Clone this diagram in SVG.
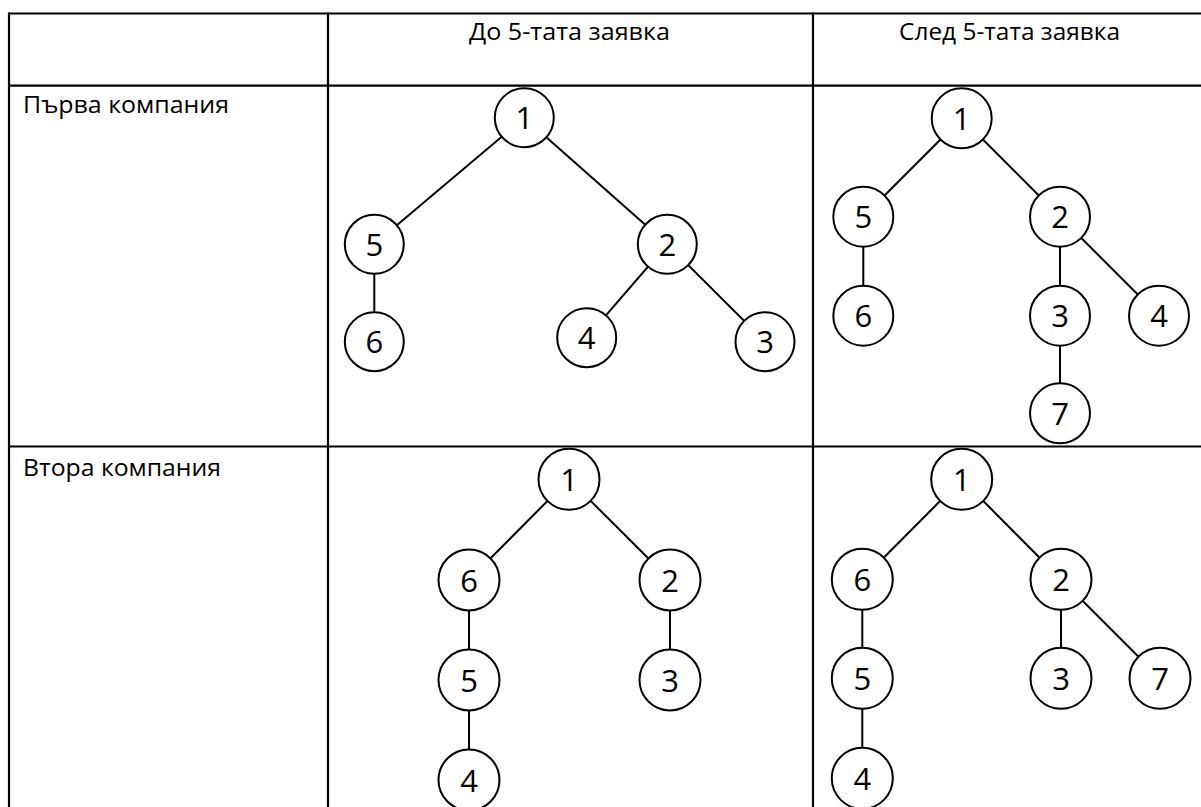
<svg xmlns="http://www.w3.org/2000/svg" width="1201" height="807" viewBox="0 0 1201 807">
<style>
.grid{stroke:#000;stroke-width:2.2;fill:none}
.edge{stroke:#000;stroke-width:2;fill:none}
.node circle{fill:#fff;stroke:#000;stroke-width:2}
.node text{font-family:"Open Sans","Noto Sans","DejaVu Sans",sans-serif;font-size:31px;text-anchor:middle;fill:#000}
.lbl{font-family:"Open Sans","Noto Sans","DejaVu Sans",sans-serif;font-size:23px;fill:#000}
</style>
<rect width="1201" height="807" fill="#fff"/>
<g id="table">
<line class="grid" x1="8" y1="13.5" x2="1201" y2="13.5"/>
<line class="grid" x1="8" y1="85.7" x2="1201" y2="85.7"/>
<line class="grid" x1="8" y1="446.5" x2="1201" y2="446.5"/>
<line class="grid" x1="9" y1="12.5" x2="9" y2="807"/>
<line class="grid" x1="328" y1="12.5" x2="328" y2="807"/>
<line class="grid" x1="813" y1="12.5" x2="813" y2="807"/>
</g>
<g id="labels">
<text class="lbl" x="469" y="40" textLength="201" lengthAdjust="spacingAndGlyphs">До 5-тата заявка</text>
<text class="lbl" x="899" y="40" textLength="221" lengthAdjust="spacingAndGlyphs">След 5-тата заявка</text>
<text class="lbl" x="23" y="112.5" textLength="206" lengthAdjust="spacingAndGlyphs">Първа компания</text>
<text class="lbl" x="23" y="475.5" textLength="198" lengthAdjust="spacingAndGlyphs">Втора компания</text>
</g>
<g id="connectors">
<line class="edge" x1="524.3" y1="117.7" x2="374.3" y2="244.3"/>
<line class="edge" x1="524.3" y1="117.7" x2="667.3" y2="244.3"/>
<line class="edge" x1="374.3" y1="244.3" x2="374.3" y2="341.7"/>
<line class="edge" x1="667.3" y1="244.3" x2="586.7" y2="337.7"/>
<line class="edge" x1="667.3" y1="244.3" x2="765" y2="341.7"/>
<line class="edge" x1="961.7" y1="118.3" x2="863.3" y2="216.7"/>
<line class="edge" x1="961.7" y1="118.3" x2="1060" y2="216.7"/>
<line class="edge" x1="863.3" y1="216.7" x2="863.3" y2="315.7"/>
<line class="edge" x1="1060" y1="216.7" x2="1060" y2="315.7"/>
<line class="edge" x1="1060" y1="216.7" x2="1159" y2="315.7"/>
<line class="edge" x1="1060" y1="315.7" x2="1060" y2="413.3"/>
<line class="edge" x1="569" y1="479.3" x2="469" y2="580"/>
<line class="edge" x1="569" y1="479.3" x2="670" y2="580"/>
<line class="edge" x1="469" y1="580" x2="469" y2="680"/>
<line class="edge" x1="469" y1="680" x2="469" y2="780"/>
<line class="edge" x1="670" y1="580" x2="670" y2="680"/>
<line class="edge" x1="961.7" y1="479.3" x2="862.3" y2="579.3"/>
<line class="edge" x1="961.7" y1="479.3" x2="1061" y2="579.3"/>
<line class="edge" x1="862.3" y1="579.3" x2="862.3" y2="678.3"/>
<line class="edge" x1="862.3" y1="678.3" x2="862.3" y2="778.3"/>
<line class="edge" x1="1061" y1="579.3" x2="1061" y2="678.3"/>
<line class="edge" x1="1061" y1="579.3" x2="1160" y2="678.3"/>
</g>
<g id="a1" class="node"><circle cx="524.3" cy="117.7" r="29.5"/><text x="524.3" y="129.3">1</text></g>
<g id="a5" class="node"><circle cx="374.3" cy="244.3" r="29.5"/><text x="374.3" y="255.9">5</text></g>
<g id="a2" class="node"><circle cx="667.3" cy="244.3" r="29.5"/><text x="667.3" y="255.9">2</text></g>
<g id="a6" class="node"><circle cx="374.3" cy="341.7" r="29.5"/><text x="374.3" y="353.3">6</text></g>
<g id="a4" class="node"><circle cx="586.7" cy="337.7" r="29.5"/><text x="586.7" y="349.3">4</text></g>
<g id="a3" class="node"><circle cx="765" cy="341.7" r="29.5"/><text x="765" y="353.3">3</text></g>

<g id="b1" class="node"><circle cx="961.7" cy="118.3" r="30"/><text x="961.7" y="129.9">1</text></g>
<g id="b5" class="node"><circle cx="863.3" cy="216.7" r="30"/><text x="863.3" y="228.3">5</text></g>
<g id="b2" class="node"><circle cx="1060" cy="216.7" r="30"/><text x="1060" y="228.3">2</text></g>
<g id="b6" class="node"><circle cx="863.3" cy="315.7" r="30"/><text x="863.3" y="327.3">6</text></g>
<g id="b3" class="node"><circle cx="1060" cy="315.7" r="30"/><text x="1060" y="327.3">3</text></g>
<g id="b4" class="node"><circle cx="1159" cy="315.7" r="30"/><text x="1159" y="327.3">4</text></g>
<g id="b7" class="node"><circle cx="1060" cy="413.3" r="30"/><text x="1060" y="424.9">7</text></g>

<g id="c1" class="node"><circle cx="569" cy="479.3" r="30.5"/><text x="569" y="490.9">1</text></g>
<g id="c6" class="node"><circle cx="469" cy="580" r="30.5"/><text x="469" y="591.6">6</text></g>
<g id="c2" class="node"><circle cx="670" cy="580" r="30.5"/><text x="670" y="591.6">2</text></g>
<g id="c5" class="node"><circle cx="469" cy="680" r="30.5"/><text x="469" y="691.6">5</text></g>
<g id="c3" class="node"><circle cx="670" cy="680" r="30.5"/><text x="670" y="691.6">3</text></g>
<g id="c4" class="node"><circle cx="469" cy="780" r="30.5"/><text x="469" y="791.6">4</text></g>

<g id="d1" class="node"><circle cx="961.7" cy="479.3" r="30.5"/><text x="961.7" y="490.9">1</text></g>
<g id="d6" class="node"><circle cx="862.3" cy="579.3" r="30.5"/><text x="862.3" y="590.9">6</text></g>
<g id="d2" class="node"><circle cx="1061" cy="579.3" r="30.5"/><text x="1061" y="590.9">2</text></g>
<g id="d5" class="node"><circle cx="862.3" cy="678.3" r="30.5"/><text x="862.3" y="689.9">5</text></g>
<g id="d3" class="node"><circle cx="1061" cy="678.3" r="30.5"/><text x="1061" y="689.9">3</text></g>
<g id="d7" class="node"><circle cx="1160" cy="678.3" r="30.5"/><text x="1160" y="689.9">7</text></g>
<g id="d4" class="node"><circle cx="862.3" cy="778.3" r="30.5"/><text x="862.3" y="789.9">4</text></g>
</svg>
